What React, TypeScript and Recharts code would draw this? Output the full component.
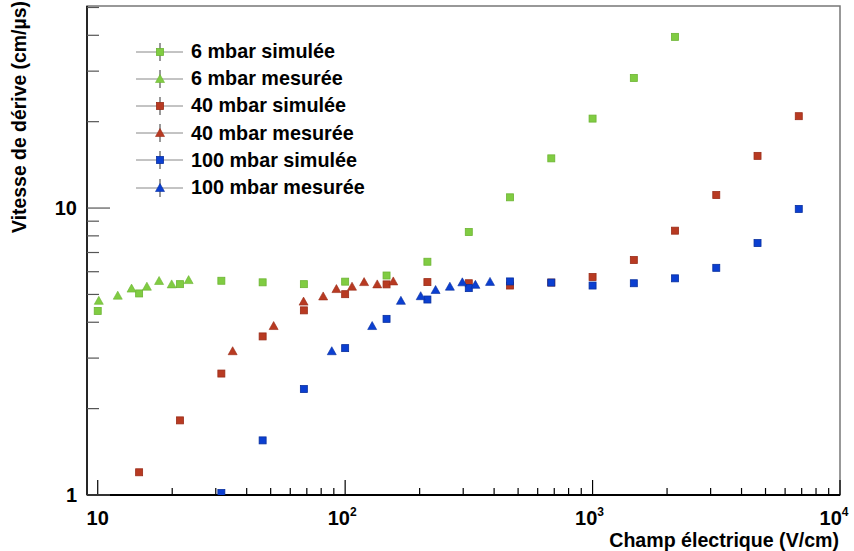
import React from 'react';
import { ScatterChart, Scatter, XAxis, YAxis, ReferenceArea } from 'recharts';

// champ électrique (V/cm) et vitesse de dérive (cm/µs)
const sim6X = [10, 14.7, 21.5, 31.6, 46.4, 68.1, 100, 147, 215, 316, 464, 681, 1000, 1468, 2154];
const sim6V = [4.38, 5.04, 5.43, 5.58, 5.51, 5.43, 5.54, 5.82, 6.5, 8.25, 10.9, 14.9, 20.5, 28.4, 39.5];

const mes6X = [10.1, 12.05, 13.7, 15.8, 17.7, 19.9, 23.3];
const mes6V = [4.75, 4.95, 5.24, 5.32, 5.57, 5.42, 5.61];

const sim40X = [14.7, 21.5, 31.6, 46.4, 68.1, 100, 147, 215, 316, 464, 681, 1000, 1468, 2154, 3162, 4642, 6813];
const sim40V = [1.2, 1.82, 2.65, 3.57, 4.4, 5.01, 5.42, 5.52, 5.47, 5.37, 5.5, 5.75, 6.59, 8.34, 11.1, 15.2, 20.9];

const mes40X = [35.1, 51.4, 67.9, 81.5, 92.2, 106.6, 119.3, 134.8, 156.5];
const mes40V = [3.17, 3.88, 4.72, 4.92, 5.22, 5.32, 5.52, 5.42, 5.55];

const sim100X = [31.6, 46.4, 68.1, 100, 147, 215, 316, 464, 681, 1000, 1468, 2154, 3162, 4642, 6813];
const sim100V = [1.016, 1.55, 2.34, 3.25, 4.11, 4.8, 5.26, 5.55, 5.5, 5.37, 5.47, 5.69, 6.19, 7.55, 9.93];

const mes100X = [88.3, 128.6, 168, 202, 232, 265, 297.6, 336, 385];
const mes100V = [3.17, 3.88, 4.75, 4.93, 5.18, 5.32, 5.51, 5.4, 5.53];

const xTicks = [10, 20, 30, 40, 50, 60, 70, 80, 90, 100, 200, 300, 400, 500, 600, 700, 800, 900,
  1000, 2000, 3000, 4000, 5000, 6000, 7000, 8000, 9000, 10000];
const yTicks = [1, 2, 3, 4, 5, 6, 7, 8, 9, 10, 20, 30, 40, 50];

const X_MIN = 9.05;
const X_MAX = 10000;
const Y_MIN = 1;
const Y_MAX = 50.6;

const GREEN = '#80cc42';
const RED = '#b83a22';
const BLUE = '#0b3fd1';
const FONT = '"Liberation Sans", Arial, Helvetica, sans-serif';

const toPoints = (xs: number[], vs: number[]) => xs.map((x, i) => ({ x, y: vs[i] }));

const series = [
  { name: '6 mbar simulée', color: GREEN, stroke: '#6cb432', kind: 'square', data: toPoints(sim6X, sim6V) },
  { name: '6 mbar mesurée', color: GREEN, stroke: '#6cb432', kind: 'triangle', data: toPoints(mes6X, mes6V) },
  { name: '40 mbar simulée', color: RED, stroke: '#9a2c18', kind: 'square', data: toPoints(sim40X, sim40V) },
  { name: '40 mbar mesurée', color: RED, stroke: '#9a2c18', kind: 'triangle', data: toPoints(mes40X, mes40V) },
  { name: '100 mbar simulée', color: BLUE, stroke: '#082f9e', kind: 'square', data: toPoints(sim100X, sim100V) },
  { name: '100 mbar mesurée', color: BLUE, stroke: '#082f9e', kind: 'triangle', data: toPoints(mes100X, mes100V) },
];

const isDecade = (v: number) => Math.abs(Math.log10(v) - Math.round(Math.log10(v))) < 1e-9;

const Marker = ({ cx, cy, kind, color, stroke }: any) => {
  if (cx == null || cy == null) return null;
  if (kind === 'square') {
    return <rect x={cx - 3.5} y={cy - 3.5} width={7} height={7} fill={color} stroke={stroke} strokeWidth={0.8} />;
  }
  return (
    <polygon
      points={`${cx},${cy - 4.5} ${cx + 4.5},${cy + 3.5} ${cx - 4.5},${cy + 3.5}`}
      fill={color}
      stroke={stroke}
      strokeWidth={0.6}
    />
  );
};

const XTick = (props: any) => {
  const { x, y, payload } = props;
  const v = payload.value;
  const major = isDecade(v);
  const exp = Math.round(Math.log10(v));
  return (
    <g>
      <line x1={x} y1={y} x2={x} y2={y - (major ? 15 : 7)} stroke="#000" strokeWidth={1.2} />
      {major && (
        <text x={exp === 1 ? x : exp === 4 ? x - 6 : x - 3} y={y + 30} textAnchor="middle" fontFamily={FONT} fontWeight="bold" fontSize={20} fill="#000">
          10
          {exp > 1 && (
            <tspan dy={-9} fontSize={12}>
              {exp}
            </tspan>
          )}
        </text>
      )}
    </g>
  );
};

const YTick = (props: any) => {
  const { x, y, payload } = props;
  const v = payload.value;
  const major = isDecade(v);
  return (
    <g>
      <line x1={x} y1={y} x2={x + (major ? 23 : 12)} y2={y} stroke="#555" strokeWidth={1.2} />
      {major && (
        <text x={x - 10} y={y} dy="0.36em" textAnchor="end" fontFamily={FONT} fontWeight="bold" fontSize={20} fill="#000">
          {v}
        </text>
      )}
    </g>
  );
};

const XTitle = (props: any) => {
  const vb = props.viewBox;
  return (
    <text x={vb.x + vb.width - 1} y={vb.y + 52} textAnchor="end" fontFamily={FONT} fontWeight="bold" fontSize={19.6} fill="#000">
      Champ électrique (V/cm)
    </text>
  );
};

const YTitle = () => (
  <text
    x={19}
    y={117}
    transform="rotate(-90 19 117)"
    textAnchor="middle"
    dy="0.35em"
    fontFamily={FONT}
    fontWeight="bold"
    fontSize={19.4}
    fill="#000"
  >
    Vitesse de dérive (cm/µs)
  </text>
);

const LegendBox = () => (
  <div style={{ position: 'absolute', left: 130, top: 38, fontFamily: FONT }}>
    {series.map((s) => (
      <div key={s.name} style={{ display: 'flex', alignItems: 'center', height: 27.2 }}>
        <svg width={58} height={22} style={{ display: 'block' }}>
          <line x1={6} y1={11} x2={53} y2={11} stroke="#888" strokeWidth={1} />
          <line x1={30} y1={2} x2={30} y2={20} stroke="#333" strokeWidth={1} />
          <Marker cx={30} cy={11} kind={s.kind} color={s.color} stroke={s.stroke} />
        </svg>
        <span style={{ fontSize: 19.8, fontWeight: 'bold', color: '#000', marginLeft: 3, whiteSpace: 'nowrap' }}>{s.name}</span>
      </div>
    ))}
  </div>
);

export default function App() {
  return (
    <div style={{ position: 'absolute', left: 0, top: 0, width: 854, height: 551, background: '#fff' }}>
      <ScatterChart width={854} height={551} margin={{ top: 6, right: 14, bottom: 0, left: 0 }}>
        <ReferenceArea x1={X_MIN} x2={X_MAX} y1={Y_MIN} y2={Y_MAX} fill="none" stroke="#777" strokeWidth={1.5} ifOverflow="visible" />
        <XAxis
          dataKey="x"
          type="number"
          scale="log"
          domain={[X_MIN, X_MAX]}
          allowDataOverflow
          ticks={xTicks}
          interval={0}
          height={56}
          tickSize={0}
          tickMargin={0}
          tickLine={false}
          tick={<XTick />}
          axisLine={{ stroke: '#000', strokeWidth: 1.8 }}
          label={<XTitle />}
        />
        <YAxis
          dataKey="y"
          type="number"
          scale="log"
          domain={[Y_MIN, Y_MAX]}
          allowDataOverflow
          ticks={yTicks}
          interval={0}
          width={87}
          tickSize={0}
          tickMargin={0}
          tickLine={false}
          tick={<YTick />}
          axisLine={{ stroke: '#000', strokeWidth: 1.5 }}
          label={<YTitle />}
        />
        {series.map((s) => (
          <Scatter
            key={s.name}
            name={s.name}
            data={s.data}
            isAnimationActive={false}
            shape={(p: any) => <Marker cx={p.cx} cy={p.cy} kind={s.kind} color={s.color} stroke={s.stroke} />}
          />
        ))}
      </ScatterChart>
      <LegendBox />
    </div>
  );
}
